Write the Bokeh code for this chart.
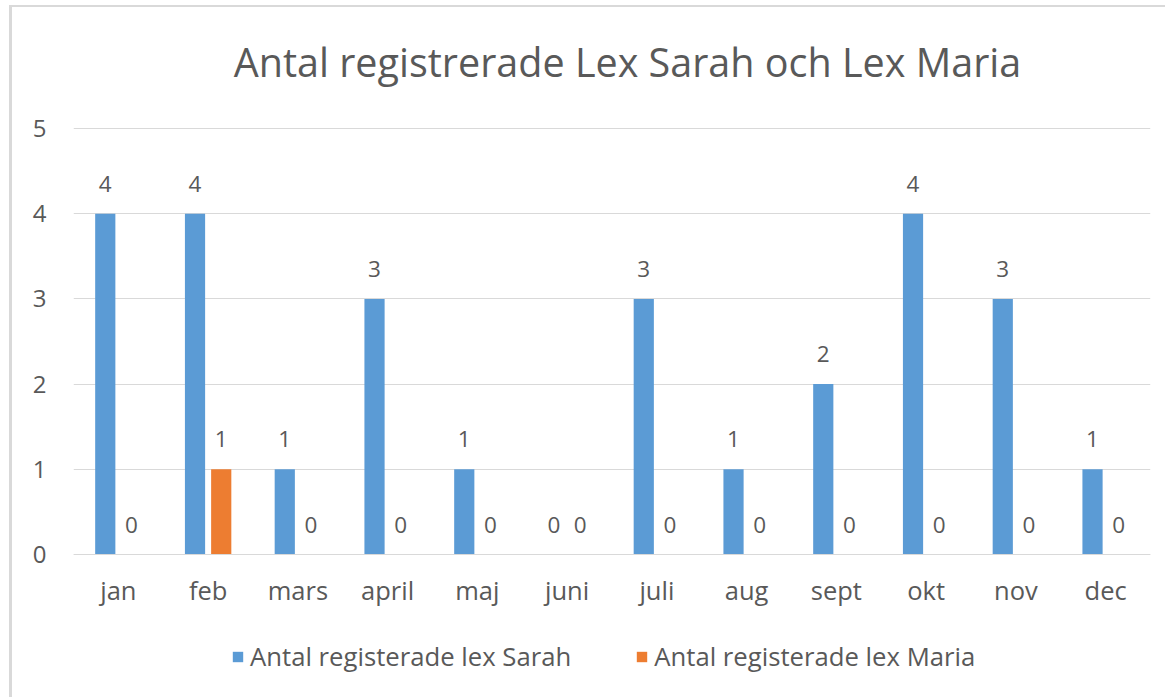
from bokeh.plotting import figure
from bokeh.models import (ColumnDataSource, FactorRange, Range1d, Legend, LegendItem,
                          Label, FixedTicker)
from bokeh.transform import dodge
from bokeh.core.properties import value
from bokeh.embed import file_html
from bokeh.resources import INLINE

months = ["jan", "feb", "mars", "april", "maj", "juni", "juli", "aug", "sept", "okt", "nov", "dec"]
sarah = [4, 4, 1, 3, 1, 0, 3, 1, 2, 4, 3, 1]
maria = [0, 1, 0, 0, 0, 0, 0, 0, 0, 0, 0, 0]
y_ticks = [0, 1, 2, 3, 4, 5]
title_text = "Antal registrerade Lex Sarah och Lex Maria"
name_sarah = "Antal registerade lex Sarah"
name_maria = "Antal registerade lex Maria"

FONT = "Open Sans"
TXT = "#595959"
GRID = "#d9d9d9"
BLUE = "#5b9bd5"
ORANGE = "#ed7d31"

# canvas geometry (pixels)
W, H = 1156, 692
FL, FR = 61, 1138          # frame left / right
Y0, Y5 = 547, 121          # pixel rows of value 0 and value 5
ppu = (Y0 - Y5) / 5.0
y_start = -(H - Y0) / ppu
y_end = 5 + Y5 / ppu
cat_w = (FR - FL) / 12.0

def data_y(row):
    return (Y0 - row) / ppu

lab_off = 30 / ppu

src = ColumnDataSource(dict(
    month=months, sarah=sarah, maria=maria,
    sarah_lab=[str(v) for v in sarah], maria_lab=[str(v) for v in maria],
    sarah_y=[v + lab_off for v in sarah], maria_y=[v + lab_off for v in maria],
))

p = figure(x_range=FactorRange(*months, range_padding=0), y_range=Range1d(y_start, y_end),
           width=W, height=H, output_backend="svg", toolbar_location=None,
           min_border_left=FL, min_border_right=W - FR, min_border_top=0, min_border_bottom=0)
p.title.visible = False
p.styles = {"border-left": "3px solid #d9d9d9", "border-top": "2px solid #d9d9d9",
            "margin-left": "9px", "margin-top": "5px"}
p.outline_line_color = None
p.background_fill_color = "white"
p.border_fill_color = "white"

dx = 0.146
bw = 0.225
r1 = p.vbar(x=dodge("month", -dx, range=p.x_range), top="sarah", width=bw, source=src,
            fill_color=BLUE, line_color=None)
r2 = p.vbar(x=dodge("month", dx, range=p.x_range), top="maria", width=bw, source=src,
            fill_color=ORANGE, line_color=None)

p.text(x=dodge("month", -dx, range=p.x_range), y="sarah_y", text="sarah_lab", source=src,
       text_align="center", text_baseline="alphabetic", text_color=TXT,
       text_font=value(FONT), text_font_size="22.5px")
p.text(x=dodge("month", dx, range=p.x_range), y="maria_y", text="maria_lab", source=src,
       text_align="center", text_baseline="alphabetic", text_color=TXT,
       text_font=value(FONT), text_font_size="22.5px")

# axes
p.yaxis.ticker = FixedTicker(ticks=y_ticks)
p.yaxis.axis_line_color = None
p.yaxis.major_tick_line_color = None
p.yaxis.minor_tick_line_color = None
p.yaxis.major_label_standoff = 21
p.yaxis.major_label_text_font = FONT
p.yaxis.major_label_text_font_size = "24px"
p.yaxis.major_label_text_color = TXT

p.xaxis.fixed_location = 0
p.xaxis.axis_line_color = GRID
p.xaxis.major_tick_line_color = None
p.xaxis.minor_tick_line_color = None
p.xaxis.major_label_standoff = 12
p.xaxis.major_label_text_font = FONT
p.xaxis.major_label_text_font_size = "25.5px"
p.xaxis.major_label_text_color = TXT

p.xgrid.grid_line_color = None
p.ygrid.grid_line_color = GRID
p.ygrid.grid_line_width = 1

# title as a label inside the frame
title = Label(x=(615 - FL) / cat_w, y=data_y(54), text=title_text, text_align="center",
              text_baseline="alphabetic", text_font=FONT, text_font_size="39.5px", text_color=TXT)
p.add_layout(title)

legend = Legend(items=[LegendItem(label=name_sarah, renderers=[r1]),
                       LegendItem(label=name_maria, renderers=[r2])],
                orientation="horizontal", location=(158, 25),
                label_text_font=FONT, label_text_font_size="25.7px", label_text_color=TXT,
                glyph_width=13, glyph_height=13, spacing=64, label_standoff=6,
                border_line_color=None, background_fill_alpha=0, padding=4, margin=0)
p.add_layout(legend, "center")

open("out.html", "w").write(file_html(p, INLINE))
